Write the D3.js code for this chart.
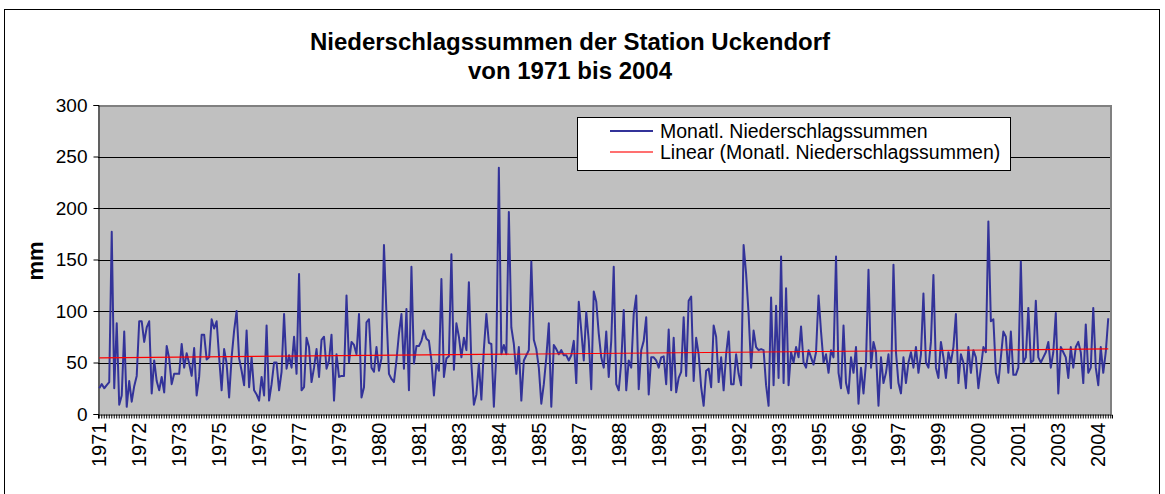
<!DOCTYPE html>
<html>
<head>
<meta charset="utf-8">
<script src="https://cdn.jsdelivr.net/npm/d3@7"></script>
<style>
  html, body { margin: 0; padding: 0; background: #fff; }
  svg { display: block; font-family: "Liberation Sans", Arial, sans-serif; }
</style>
</head>
<body>
<svg id="chart" width="1165" height="494"></svg>
<script>
// Monthly precipitation totals (mm), station Uckendorf, starting January 1971
const precip = [
  25,29,25,28,31,177,25,88,9,18,80,7,
  32,12,27,37,90,90,70,84,90,20,52,32,
  23,36,21,66,54,29,39,39,39,68,45,59,
  49,37,64,18,36,77,77,53,55,92,83,90,
  55,23,63,49,16,55,81,100,54,42,28,81,
  26,55,23,19,13,36,18,86,13,29,50,50,
  23,41,97,44,57,45,75,39,136,23,26,74,
  65,31,45,63,36,72,75,44,52,77,13,58,
  36,37,37,115,50,70,67,58,97,16,26,89,
  92,45,41,65,42,54,164,97,39,34,31,52,
  78,97,44,102,23,143,49,66,66,71,81,73,
  71,52,18,49,42,131,36,54,56,155,43,88,
  75,55,74,62,128,49,9,19,49,14,63,97,
  69,68,7,60,239,58,67,58,196,84,68,39,
  65,13,52,57,62,148,72,63,45,10,29,55,
  88,7,67,63,58,62,57,57,52,57,71,30,
  109,81,52,99,71,24,119,109,78,55,45,80,
  36,71,143,29,23,50,101,23,52,45,97,115,
  24,62,71,94,19,55,55,52,45,55,56,29,
  82,23,74,21,35,41,94,37,110,114,32,74,
  58,26,8,42,44,26,86,75,31,55,23,58,
  80,29,29,58,39,28,164,136,97,45,81,65,
  62,63,62,28,8,113,28,105,35,153,30,122,
  28,60,50,65,55,85,50,45,62,55,48,60,
  115,80,50,58,40,62,55,153,40,25,86,30,
  20,55,40,65,10,45,20,50,140,45,70,60,
  8,55,30,40,58,25,145,60,30,20,55,30,
  50,60,45,65,40,58,117,50,45,70,135,45,
  35,70,55,35,60,50,65,97,30,58,50,25,
  65,40,62,55,25,45,65,60,187,90,92,40,
  30,55,80,75,40,80,38,38,45,148,50,55,
  103,50,52,110,55,50,55,60,70,45,60,98,
  20,65,60,55,35,65,45,65,70,60,30,87,
  40,45,103,45,28,65,40,60,93
];
const monthCount = 406;                 // monthly categories on the axis
const yTicks = [0, 50, 100, 150, 200, 250, 300];
const xTickLabels = ["1971","1972","1973","1975","1976","1977","1979","1980","1981",
  "1983","1984","1985","1987","1988","1989","1991","1992","1993","1995","1996",
  "1997","1999","2000","2001","2003","2004"];
const labelStep = 16;                   // one label every 16 months
const titleLines = ["Niederschlagssummen der Station Uckendorf", "von 1971 bis 2004"];
const seriesName = "Monatl. Niederschlagssummen";
const trendName = "Linear (Monatl. Niederschlagssummen)";

const FONT = "Liberation Sans, Arial, sans-serif";
const svg = d3.select("#chart");
const plot = { left: 98, right: 1112, top: 105, bottom: 414 };

// chart frame
svg.append("rect").attr("x", 4.5).attr("y", 9.5).attr("width", 1155).attr("height", 490)
  .attr("fill", "#fff").attr("stroke", "#000").attr("stroke-width", 1);

const idx = d3.range(monthCount);
const x = d3.scaleBand().domain(idx).range([plot.left, plot.right]).paddingInner(0).paddingOuter(0);
const cx = i => x(i) + x.bandwidth() / 2;
const y = d3.scaleLinear().domain([0, 300]).range([plot.bottom, plot.top]);

// plot area
svg.append("rect").attr("x", plot.left).attr("y", plot.top)
  .attr("width", plot.right - plot.left).attr("height", plot.bottom - plot.top)
  .attr("fill", "#c0c0c0");
svg.append("path")
  .attr("d", `M${plot.left},${plot.top + 1}H${plot.right - 1}V${plot.bottom}`)
  .attr("fill", "none").attr("stroke", "#808080").attr("stroke-width", 2);

// gridlines
svg.append("g").selectAll("line").data(yTicks.filter(v => v > 0 && v < 300)).join("line")
  .attr("x1", plot.left).attr("x2", plot.right - 2)
  .attr("y1", d => Math.round(y(d)) + 0.5).attr("y2", d => Math.round(y(d)) + 0.5)
  .attr("stroke", "#000").attr("stroke-width", 1);

// y axis
const yAxis = svg.append("g").attr("transform", `translate(${plot.left + 0.5},0)`)
  .call(d3.axisLeft(y).tickValues(yTicks).tickSize(5).tickPadding(6));
yAxis.select(".domain").attr("stroke", "#000");
yAxis.selectAll("text").attr("font-size", 19).attr("fill", "#000").attr("font-family", FONT);

// x axis: a tick for every month, a year label every 16 months
const xTickG = svg.append("g").attr("transform", `translate(0,${plot.bottom + 0.5})`)
  .call(d3.axisBottom(x).tickValues(idx).tickSize(4).tickFormat(""));
xTickG.select(".domain").attr("stroke", "#000");
xTickG.selectAll(".tick line").attr("stroke", "#000");

const labelIdx = idx.filter(i => i % labelStep === 0);
const xLab = svg.append("g").attr("transform", `translate(0,${plot.bottom + 0.5})`)
  .call(d3.axisBottom(x).tickValues(labelIdx).tickSize(0)
    .tickFormat((d, k) => xTickLabels[k]));
xLab.select(".domain").remove();
xLab.selectAll("text")
  .attr("font-size", 20).attr("fill", "#000").attr("font-family", FONT)
  .attr("transform", "rotate(-90)")
  .attr("text-anchor", "end")
  .attr("dy", "0.35em").attr("x", -8).attr("y", 0);

// monthly series
const line = d3.line().x((d, i) => cx(i)).y(d => y(d));
svg.append("path").datum(precip)
  .attr("d", line).attr("fill", "none")
  .attr("stroke", "#333399").attr("stroke-width", 2).attr("stroke-linejoin", "round");

// linear trend (least squares over the monthly values)
const n = precip.length;
const mx = d3.mean(precip, (d, i) => i), my = d3.mean(precip);
const slope = d3.sum(precip, (d, i) => (i - mx) * (d - my)) / d3.sum(precip, (d, i) => (i - mx) ** 2);
const icpt = my - slope * mx;
svg.append("line")
  .attr("x1", cx(0)).attr("x2", cx(n - 1))
  .attr("y1", y(icpt)).attr("y2", y(icpt + slope * (n - 1)))
  .attr("stroke", "#ff0000").attr("stroke-width", 1.2);

// titles
const title = svg.append("text").attr("text-anchor", "middle")
  .attr("font-weight", "bold").attr("font-size", 24).attr("fill", "#000");
title.selectAll("tspan").data(titleLines).join("tspan")
  .attr("x", 570).attr("y", (d, i) => 50 + i * 29).text(d => d);

svg.append("text").attr("transform", "translate(43,261) rotate(-90)")
  .attr("text-anchor", "middle").attr("font-weight", "bold").attr("font-size", 22)
  .text("mm");

// legend
const lg = svg.append("g").attr("transform", "translate(577,117)");
lg.append("rect").attr("x", 0.5).attr("y", 0.5).attr("width", 433).attr("height", 53)
  .attr("fill", "#fff").attr("stroke", "#000");
const items = [{ name: seriesName, color: "#333399", w: 2 }, { name: trendName, color: "#ff4040", w: 1.5 }];
const li = lg.selectAll("g.item").data(items).join("g").attr("class", "item")
  .attr("transform", (d, i) => `translate(0,${14 + i * 21})`);
li.append("line").attr("x1", 33).attr("x2", 76).attr("y1", 0).attr("y2", 0)
  .attr("stroke", d => d.color).attr("stroke-width", d => d.w);
li.append("text").attr("x", 83).attr("y", 0).attr("dy", "0.35em")
  .attr("font-size", 19.5).text(d => d.name);
</script>
</body>
</html>
